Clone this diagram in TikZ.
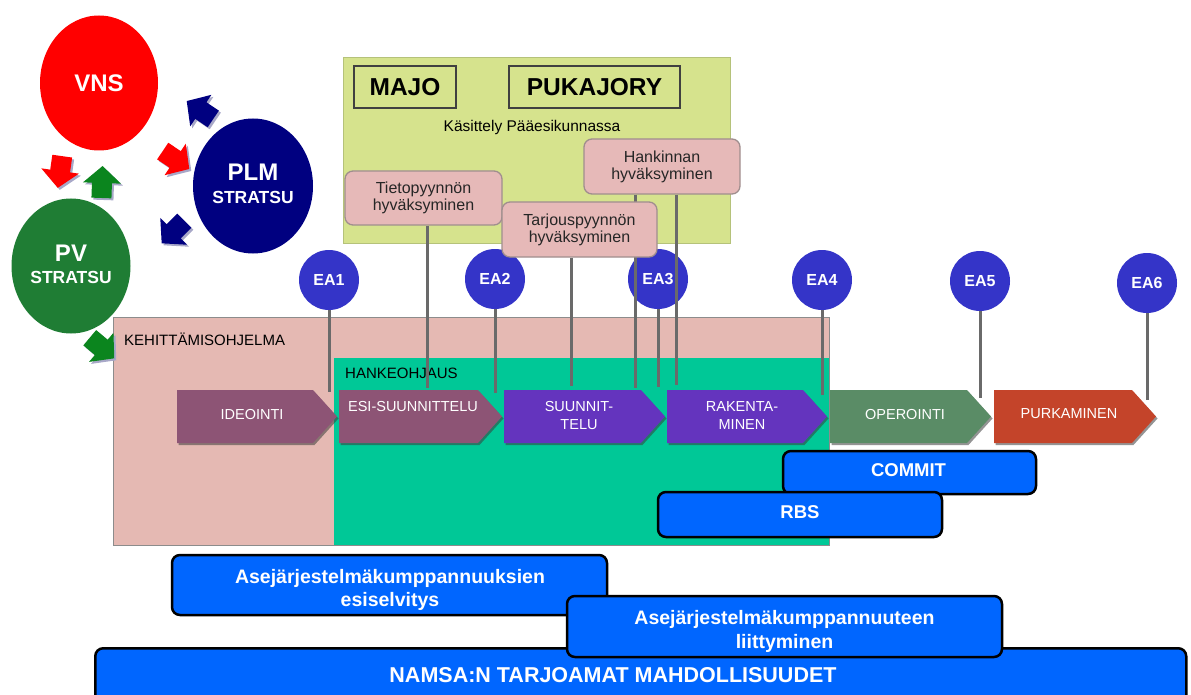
\documentclass[tikz,border=0pt]{standalone}
\usepackage{fontspec}
\setmainfont{Liberation Sans}
\usetikzlibrary{shapes.geometric}

\definecolor{vnsred}{HTML}{FF0000}
\definecolor{plmnavy}{HTML}{000080}
\definecolor{pvgreen}{HTML}{1F7D34}
\definecolor{arrgreen}{HTML}{0B851E}
\definecolor{arrshade}{HTML}{A8A8C8}
\definecolor{eablue}{HTML}{3434C8}
\definecolor{panel}{HTML}{D6E38D}
\definecolor{panelline}{HTML}{B5C27A}
\definecolor{notebox}{HTML}{E6B9B8}
\definecolor{noteline}{HTML}{A08E8E}
\definecolor{progpink}{HTML}{E5B9B3}
\definecolor{projteal}{HTML}{00C897}
\definecolor{plum}{HTML}{8D5475}
\definecolor{violet}{HTML}{6434BE}
\definecolor{sage}{HTML}{5A8C66}
\definecolor{rust}{HTML}{C4442A}
\definecolor{barblue}{HTML}{0066FF}
\definecolor{stemgray}{HTML}{6A6A6A}
\definecolor{phshade}{HTML}{3C3C3C}

\newcommand{\setfs}[2]{\fontsize{#1}{#2}\selectfont}

% small block arrow: centre x, centre y, direction angle, colour
\newcommand{\blockarr}[4]{%
  \fill[arrshade, shift={(#1+2,#2+2)}, rotate=#3]
    (-16,-10) -- (-1,-10) -- (-1,-19) -- (16,0) -- (-1,19) -- (-1,10) -- (-16,10) -- cycle;
  \fill[#4, shift={(#1,#2)}, rotate=#3]
    (-16,-10) -- (-1,-10) -- (-1,-19) -- (16,0) -- (-1,19) -- (-1,10) -- (-16,10) -- cycle;
}

% life-cycle phase: name, left x, tip x, colour, label x, label y, label
\newcommand{\phase}[7]{%
  \fill[phshade, opacity=.55] ({#2+1.5},392) -- ({#3-24+1.5},392) -- ({#3+1.5},418.5)
    -- ({#3-24+1.5},445) -- ({#2+1.5},445) -- cycle;
  \fill[#4] (#2,390) -- ({#3-24},390) -- (#3,416.5) -- ({#3-24},443) -- (#2,443) -- cycle;
  \node[phtext] (#1) at (#5,#6) {#7};
}

\tikzset{
  bigcirc/.style={ellipse, minimum width=119, minimum height=135, inner sep=0},
  bigname/.style={text=white, font=\bfseries\setfs{24}{26}, inner sep=0},
  subname/.style={text=white, font=\bfseries\setfs{17.5}{20}, inner sep=0},
  ea/.style={circle, fill=eablue, minimum size=60, inner sep=0, text=white,
    font=\bfseries\setfs{16}{18}},
  stem/.style={draw=stemgray, line width=3},
  note/.style={rectangle, rounded corners=8, fill=notebox, draw=noteline, line width=1.3,
    align=center, font=\setfs{16}{17}, text=black!85, inner sep=0},
  board/.style={rectangle, draw=black!75, line width=1.2, font=\bfseries\setfs{24.5}{26},
    inner sep=0},
  phtext/.style={text=white, align=center, font=\setfs{14.5}{18}, inner sep=0},
  area/.style={font=\setfs{15}{17}, anchor=west, inner sep=0},
  bar/.style={rectangle, rounded corners=8, fill=barblue, draw=black, line width=2.5,
    inner sep=0},
  bartext/.style={text=white, align=center, font=\bfseries\setfs{19.5}{23.5}, inner sep=0},
}

\begin{document}
\begin{tikzpicture}[x=1pt, y=-1pt]
\useasboundingbox (0,0) rectangle (1191,695);
\clip (0,0) rectangle (1191,695);

% programme and project frames
\node[rectangle, fill=progpink, draw=black!45, line width=.8, minimum width=716,
  minimum height=228, anchor=north west, inner sep=0] (prog) at (113,317) {};
\node[rectangle, fill=projteal, minimum width=495, minimum height=187,
  anchor=north west, inner sep=0] (proj) at (334,358) {};
\node[area] (prog-t) at (124,339) {KEHITTÄMISOHJELMA};
\node[area] (proj-t) at (345,373) {HANKEOHJAUS};

% headquarters panel
\node[rectangle, fill=panel, draw=panelline, line width=.8, minimum width=387,
  minimum height=186, anchor=north west, inner sep=0] (hq) at (343,57) {};
\node[board, minimum width=102, minimum height=42] (majo) at (405,87) {MAJO};
\node[board, minimum width=171, minimum height=42] (pukajory) at (594.5,87) {PUKAJORY};
\node[font=\setfs{15.5}{17}, inner sep=0] (hq-t) at (532,127) {Käsittely Pääesikunnassa};

% strategy circles
\node[bigcirc, minimum width=118, fill=vnsred] (vns) at (99,83) {};
\node[bigname] (vns-t) at (99,83) {VNS};
\node[bigcirc, minimum width=120, fill=plmnavy] (plm) at (253,186) {};
\node[bigname] (plm-t) at (253,172) {PLM};
\node[subname] (plm-s) at (253,197) {STRATSU};
\node[bigcirc, fill=pvgreen] (pv) at (71,266) {};
\node[bigname] (pv-t) at (71,253) {PV};
\node[subname] (pv-s) at (71,277) {STRATSU};

\blockarr{60}{172}{262}{vnsred}
\blockarr{102}{182}{88}{arrgreen}
\blockarr{200}{110}{146}{plmnavy}
\blockarr{176}{160}{-34}{vnsred}
\blockarr{173}{232}{225}{plmnavy}
\blockarr{102}{348}{-40}{arrgreen}

% decision points
\coordinate (s1) at (329,392);
\coordinate (s2) at (495,393);
\coordinate (s3) at (658,387);
\coordinate (s4) at (822,395);
\coordinate (s5) at (980,398);
\coordinate (s6) at (1147,400);
\draw[stem] (329,280) -- (s1);
\draw[stem] (495,279) -- (s2);
\draw[stem] (658,279) -- (s3);
\draw[stem] (822,280) -- (s4);
\draw[stem] (980,281) -- (s5);
\draw[stem] (1147,283) -- (s6);
\node[ea] (ea1) at (329,280) {EA1};
\node[ea] (ea2) at (495,279) {EA2};
\node[ea] (ea3) at (658,279) {EA3};
\node[ea] (ea4) at (822,280) {EA4};
\node[ea] (ea5) at (980,281) {EA5};
\node[ea] (ea6) at (1147,283) {EA6};

% approvals
\node[note, minimum width=157, minimum height=54] (tieto) at (423.5,198) {Tietopyynnön\\hyväksyminen};
\node[note, minimum width=156, minimum height=55] (hank) at (662,166.5) {Hankinnan\\hyväksyminen};
\coordinate (a1) at (427,388);
\coordinate (a2) at (571,386);
\coordinate (a3) at (635,388);
\coordinate (a4) at (676,385);
\draw[stem] (a1 |- tieto.south) -- (a1);
\draw[stem] (a3 |- hank.south) -- (a3);
\draw[stem] (a4 |- hank.south) -- (a4);
\node[note, minimum width=155, minimum height=55] (tarjous) at (579.5,229.5) {Tarjouspyynnön\\hyväksyminen};
\draw[stem] (a2 |- tarjous.south) -- (a2);

% life-cycle phases
\phase{ideo}{177}{337}{plum}{252}{415}{IDEOINTI}
\phase{esi}{339}{502}{plum}{413}{407}{ESI-SUUNNITTELU}
\phase{suun}{504}{665}{violet}{579}{416}{SUUNNIT-\\TELU}
\phase{rak}{667}{827}{violet}{742}{416}{RAKENTA-\\MINEN}
\phase{oper}{830}{991}{sage}{905}{415}{OPEROINTI}
\phase{purk}{994}{1156}{rust}{1069}{414}{PURKAMINEN}

% support bars
\node[bar, minimum width=253, minimum height=43] (commit) at (909.5,472.5) {};
\node[bartext, font=\bfseries\setfs{18.5}{20}] (commit-t) at (908.5,470) {COMMIT};
\node[bar, minimum width=284, minimum height=45] (rbs) at (800,514.5) {};
\node[bartext, font=\bfseries\setfs{18.5}{20}] (rbs-t) at (800,512) {RBS};

\node[bar, minimum width=1091, minimum height=70, anchor=north west] (namsa) at (94,647) {};
\node[bartext, font=\bfseries\setfs{21.5}{24}] (namsa-t) at (613,675) {NAMSA:N TARJOAMAT MAHDOLLISUUDET};
\node[bar, minimum width=435, minimum height=60] (esisel) at (389.5,585) {};
\node[bartext] (esisel-t) at (390,590) {Asejärjestelmäkumppannuuksien\\esiselvitys};
\node[bar, minimum width=435, minimum height=61] (liitty) at (784.5,626.5) {};
\node[bartext] (liitty-t) at (784.5,631.5) {Asejärjestelmäkumppannuuteen\\liittyminen};
\end{tikzpicture}
\end{document}
